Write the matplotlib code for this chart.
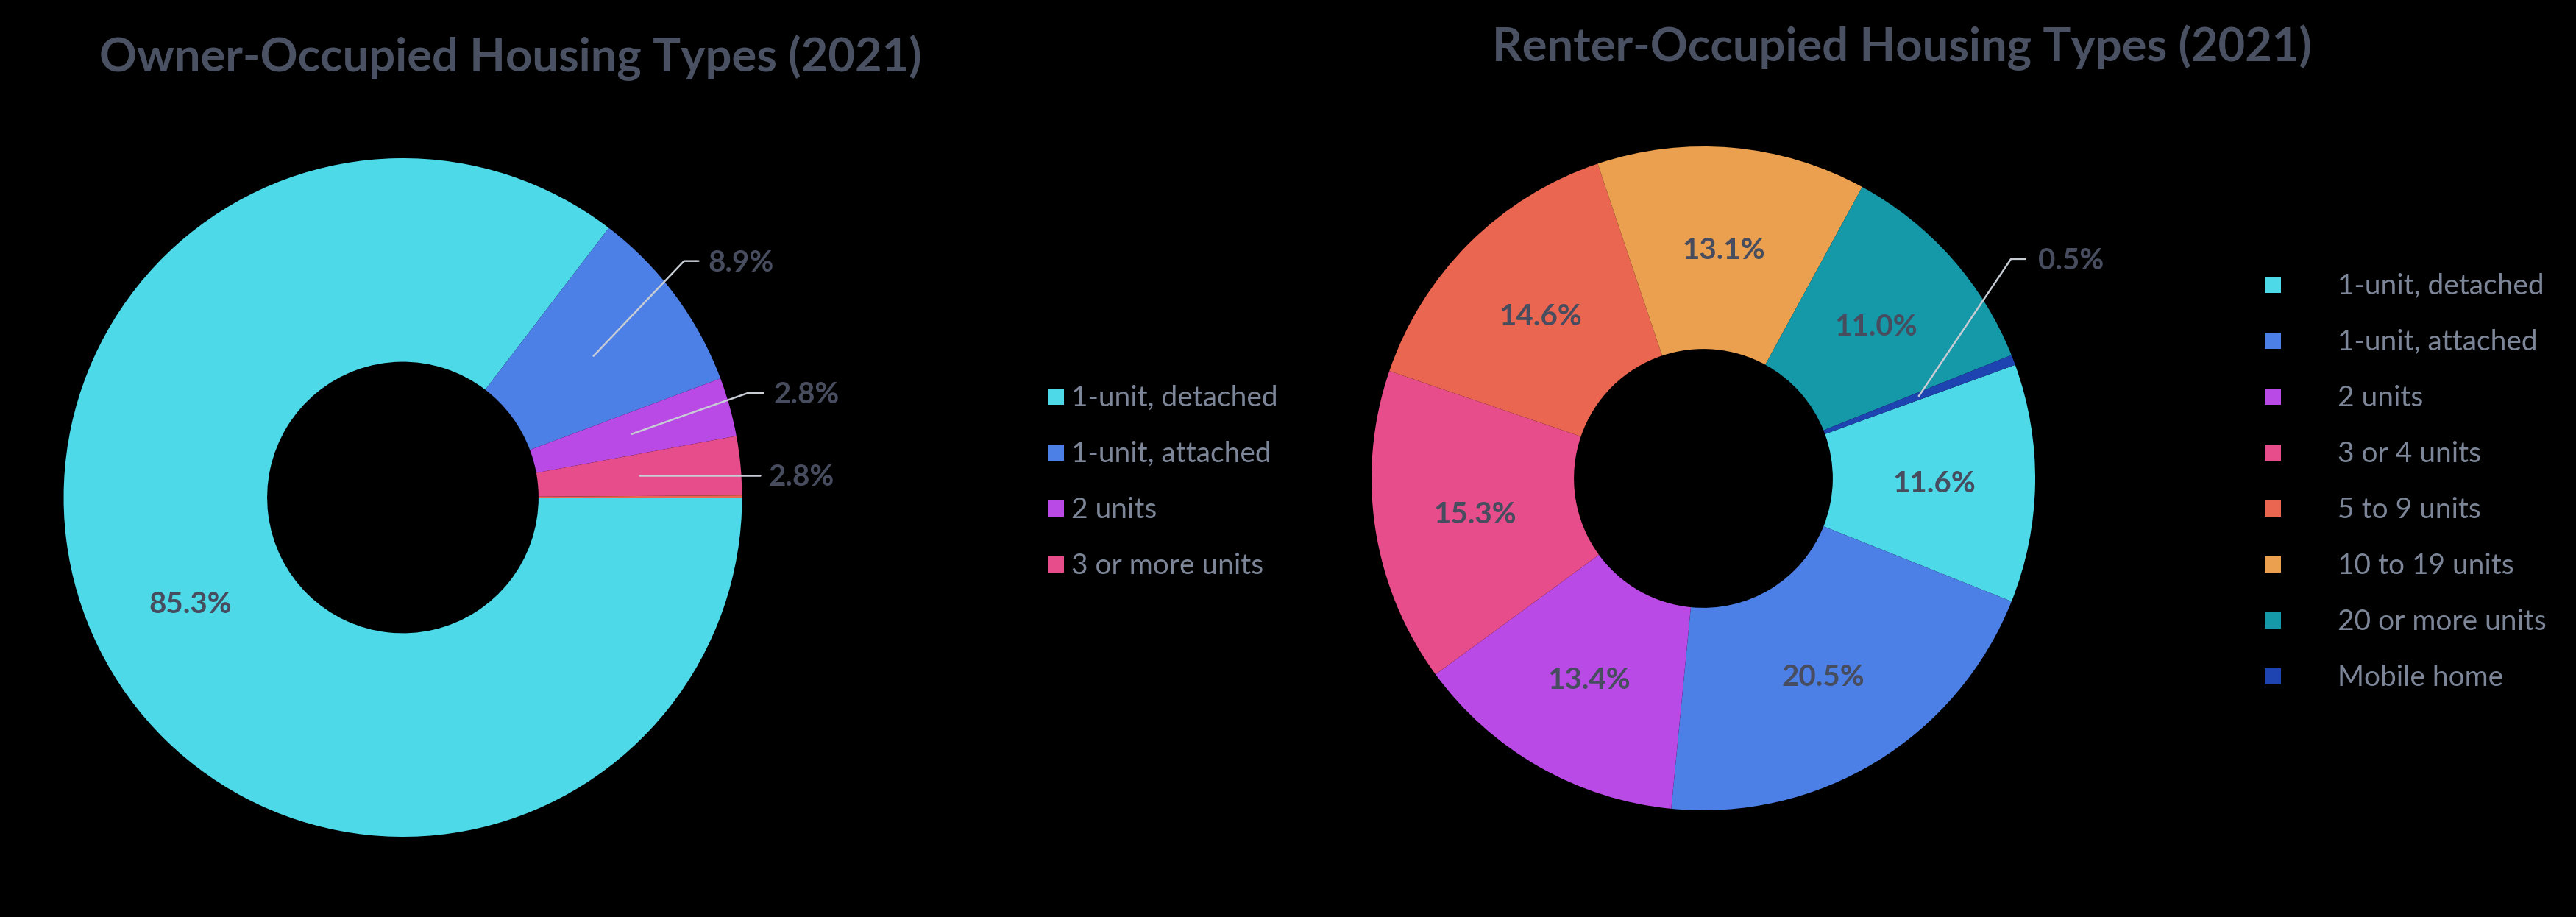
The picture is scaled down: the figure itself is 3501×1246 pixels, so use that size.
import matplotlib
matplotlib.use('Agg')
import matplotlib.pyplot as plt
import numpy as np
from matplotlib.patches import Rectangle

plt.rcParams['font.family'] = ['Lato', 'DejaVu Sans']

# ---------------- data ----------------
owner_title = 'Owner-Occupied Housing Types (2021)'
owner_categories = ['1-unit, detached', '1-unit, attached', '2 units', '3 or more units']
owner_values = [85.3, 8.9, 2.8, 2.8]
owner_residual = [0.1]          # thin unlabeled sliver visible at 3 o'clock

renter_title = 'Renter-Occupied Housing Types (2021)'
renter_categories = ['1-unit, detached', '1-unit, attached', '2 units', '3 or 4 units',
                     '5 to 9 units', '10 to 19 units', '20 or more units', 'Mobile home']
renter_values = [11.6, 20.5, 13.4, 15.3, 14.6, 13.1, 11.0, 0.5]

palette = ['#4DD9E8', '#4D80E6', '#B94AE6', '#E64D8A', '#EA6650', '#EBA050', '#1599A8', '#1D44B0']

TITLE_C = '#4A5162'
LEGEND_C = '#7C8698'
LABEL_C = '#474D5E'
LEADER_C = '#C8CCD4'

# ---------------- layout ----------------
W, H = 3501, 1246
fig = plt.figure(figsize=(W / 100, H / 100), dpi=100, facecolor='black')
L = 1.3


def make_ax(cx, cy, R):
    ax = fig.add_axes([(cx - L * R) / W, (H - cy - L * R) / H, 2 * L * R / W, 2 * L * R / H])
    ax.set_facecolor('none')
    return ax


def fx(px):
    return px / W


def fy(py):
    return 1 - py / H


def donut(ax, values, colors, start, hole, R):
    wedges, _ = ax.pie(values, colors=colors, startangle=start, counterclock=False,
                       radius=1.0, wedgeprops=dict(width=1 - hole, linewidth=0))
    ax.set_xlim(-L, L)
    ax.set_ylim(-L, L)
    ax.axis('off')
    rmid = (1 + hole) / 2
    cap = 14.0 / R   # half cap height in data units
    return wedges, rmid, cap


def labels(ax, wedges, values, rmid, cap, outside, n):
    for i in range(n):
        w = wedges[i]
        ang = np.deg2rad((w.theta1 + w.theta2) / 2)
        x0, y0 = rmid * np.cos(ang), rmid * np.sin(ang)
        txt = f'{values[i]:.1f}%'
        if i in outside:
            ex, ey, endx, tx = outside[i]
            if ey is None:
                ey = y0
            ax.plot([x0, ex, endx], [y0, ey, ey], color=LEADER_C, lw=1.8,
                    solid_capstyle='round', clip_on=False, zorder=3)
            ax.text(tx, ey - cap, txt, ha='left', va='baseline', fontsize=29,
                    fontweight='bold', color=LABEL_C, clip_on=False)
        else:
            ax.text(x0, y0 - cap, txt, ha='center', va='baseline', fontsize=29,
                    fontweight='bold', color=LABEL_C)


def legend(cats, colors, sq_x, text_x, row0, step):
    for i, (c, col) in enumerate(zip(cats, colors)):
        yc = row0 + i * step
        fig.add_artist(Rectangle((fx(sq_x), fy(yc + 11)), 22 / W, 22 / H,
                                 transform=fig.transFigure, facecolor=col, edgecolor='none'))
        fig.text(fx(text_x), fy(yc + 13), c, ha='left', va='baseline', fontsize=28,
                 color=LEGEND_C)


# ---- owner donut ----
R1 = 461
ax1 = make_ax(547.5, 676, R1)
owner_colors = palette[:len(owner_values)] + [palette[4]]
w1, rm1, cap1 = donut(ax1, owner_values + owner_residual, owner_colors, 0, 0.40, R1)
# (elbow x, elbow y or None for a straight horizontal leader, end x, text x)
owner_outside = {1: (0.829, 0.697, 0.872, 0.900),
                 2: (1.017, 0.308, 1.063, 1.093),
                 3: (0.9, None, 1.053, 1.079)}
labels(ax1, w1, owner_values, rm1, cap1, owner_outside, len(owner_values))

# ---- renter donut ----
R2 = 451
ax2 = make_ax(2315, 650, R2)
w2, rm2, cap2 = donut(ax2, renter_values, palette[:len(renter_values)], 20, 0.39, R2)
renter_outside = {7: (0.927, 0.661, 0.971, 1.009)}
labels(ax2, w2, renter_values, rm2, cap2, renter_outside, len(renter_values))

# ---- titles ----
fig.text(fx(694), fy(97), owner_title, ha='center', va='baseline', fontsize=45.5,
         fontweight='bold', color=TITLE_C)
fig.text(fx(2585), fy(83), renter_title, ha='center', va='baseline', fontsize=45.5,
         fontweight='bold', color=TITLE_C)

# ---- legends ----
legend(owner_categories, palette, 1424, 1456, 539, 76)
legend(renter_categories, palette, 3078, 3177, 387, 76)

fig.savefig('out.png', dpi=100, facecolor='black')
